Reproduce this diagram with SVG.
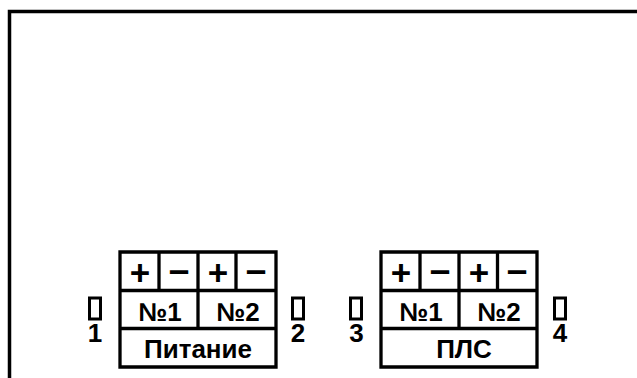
<svg xmlns="http://www.w3.org/2000/svg" width="637" height="378" viewBox="0 0 637 378">
<style>
.l{fill:none;stroke:#000;stroke-width:3.300}
.k{fill:none;stroke:#000;stroke-width:3}
.t{font-family:"Liberation Sans",Arial,sans-serif;font-weight:700;font-size:26px;fill:#000;text-anchor:middle}
.s{font-size:35px}
.m{font-size:37px}
</style>
<rect width="637" height="378" fill="#fff"/>
<g id="frame"><path class="l" d="M9.500 378V11.500H637" style="stroke-width:3.500"/></g>
<g id="connectors"></g>
<g id="block-power">
<path class="l" d="M120 252H276V367H120ZM120 290.500H276M120 328.500H276M159 252V290.500M198 252V328.500M236 252V290.500"/>
<text class="t s" x="140" y="284.500">+</text><text class="t m" x="179" y="281.500">–</text><text class="t s" x="218" y="284.500">+</text><text class="t m" x="256" y="281.500">–</text>
<text class="t" x="160" y="320.500">№1</text><text class="t" x="238" y="320.500">№2</text><text class="t" x="198" y="358">Питание</text>
</g>
<g id="block-plc">
<path class="l" d="M381 252H537V367H381ZM381 290.500H537M381 328.500H537M420 252V290.500M459 252V328.500M497.500 252V290.500"/>
<text class="t s" x="401" y="284.500">+</text><text class="t m" x="440" y="281.500">–</text><text class="t s" x="479" y="284.500">+</text><text class="t m" x="517" y="281.500">–</text>
<text class="t" x="421" y="320.500">№1</text><text class="t" x="499" y="320.500">№2</text><text class="t" x="464" y="358">ПЛС</text>
</g>
<g id="terminal-1"><rect class="k" x="89.500" y="298" width="11" height="21"/><text class="t" x="95" y="342">1</text></g>
<g id="terminal-2"><rect class="k" x="292.500" y="298" width="11" height="21"/><text class="t" x="298" y="342">2</text></g>
<g id="terminal-3"><rect class="k" x="350.500" y="298" width="11" height="21"/><text class="t" x="356.500" y="342">3</text></g>
<g id="terminal-4"><rect class="k" x="554.500" y="298" width="11" height="21"/><text class="t" x="560" y="342">4</text></g>
</svg>
